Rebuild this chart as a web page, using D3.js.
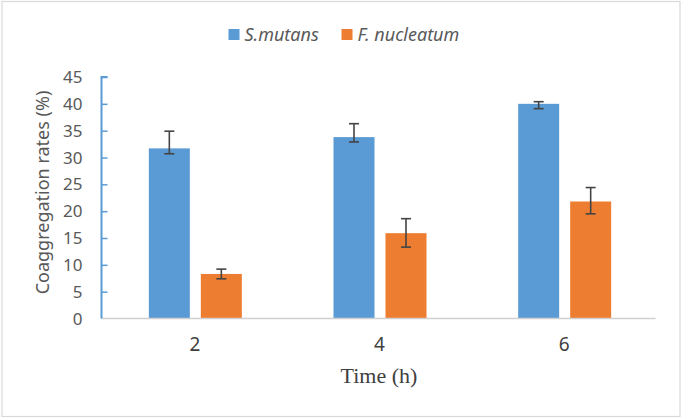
<!DOCTYPE html>
<html>
<head>
<meta charset="utf-8">
<script src="https://cdn.jsdelivr.net/npm/d3@7"></script>
<style>
  html, body { margin: 0; padding: 0; background: #fff; }
  svg { display: block; }
</style>
</head>
<body>
<svg id="chart" width="683" height="420"></svg>
<script>
// ---- data ----
const categories = ["2", "4", "6"];
const seriesNames = ["S.mutans", "F. nucleatum"];
const sMutans      = [31.7, 33.8, 40.0];
const sMutansErrUp = [3.2, 2.5, 0.4];
const sMutansErrDn = [1.0, 0.9, 0.9];
const fNucleatum      = [8.3, 15.9, 21.8];
const fNucleatumErrUp = [0.9, 2.7, 2.6];
const fNucleatumErrDn = [0.9, 2.6, 2.3];
const yTicks = [0, 5, 10, 15, 20, 25, 30, 35, 40, 45];
const colors = ["#5B9BD5", "#ED7D31"];

const series = [
  { name: seriesNames[0], values: sMutans, up: sMutansErrUp, dn: sMutansErrDn },
  { name: seriesNames[1], values: fNucleatum, up: fNucleatumErrUp, dn: fNucleatumErrDn }
];

(function () {
const svg = d3.select("#chart");

// outer border
svg.append("rect")
  .attr("x", 2).attr("y", 1.5).attr("width", 678).attr("height", 415)
  .attr("fill", "#fff").attr("stroke", "#d9d9d9").attr("stroke-width", 1.2);

const pLeft = 101.5, pRight = 655.5, pTop = 77, pBottom = 318.5;

const x0 = d3.scaleBand().domain(categories).range([pLeft, pRight]).padding(0);
const groupW = 93;
const x1 = d3.scaleBand().domain(seriesNames).range([0, groupW]).paddingInner(11 / 52).paddingOuter(0);
const y = d3.scaleLinear().domain([0, 45]).range([pBottom, pTop]);

const gx = c => x0(c) + x0.bandwidth() / 2 + 1.5 - groupW / 2;

// bars
series.forEach((s, si) => {
  svg.append("g").selectAll("rect")
    .data(categories)
    .join("rect")
    .attr("x", (c) => gx(c) + x1(s.name))
    .attr("width", x1.bandwidth())
    .attr("y", (c, i) => y(s.values[i]))
    .attr("height", (c, i) => y(0) - y(s.values[i]))
    .attr("fill", colors[si]);
});

// x axis line
svg.append("line")
  .attr("x1", pLeft).attr("x2", pRight)
  .attr("y1", pBottom).attr("y2", pBottom)
  .attr("stroke", "#d0d0d0").attr("stroke-width", 1.5);

// error bars
series.forEach((s, si) => {
  const g = svg.append("g").attr("stroke", "#444").attr("stroke-width", 1.6).attr("fill", "none");
  categories.forEach((c, i) => {
    const cx = gx(c) + x1(s.name) + x1.bandwidth() / 2;
    const yt = y(s.values[i] + s.up[i]);
    const yb = y(s.values[i] - s.dn[i]);
    g.append("line").attr("x1", cx).attr("x2", cx).attr("y1", yt).attr("y2", yb);
    g.append("line").attr("x1", cx - 5).attr("x2", cx + 5).attr("y1", yt).attr("y2", yt);
    g.append("line").attr("x1", cx - 5).attr("x2", cx + 5).attr("y1", yb).attr("y2", yb);
  });
});

// y axis (blue, ticks inward)
const yAxis = d3.axisRight(y).tickValues(yTicks).tickSize(6).tickSizeOuter(6).tickFormat("");
const ga = svg.append("g").attr("transform", `translate(${pLeft},0)`).call(yAxis);
ga.select(".domain").attr("stroke", "#5B9BD5").attr("stroke-width", 2).attr("d", `M6,${pTop}H0V${pBottom}`);
ga.selectAll(".tick line").attr("stroke", "#5B9BD5").attr("stroke-width", 1.5);
ga.selectAll(".tick").filter(d => d === 0).remove();

// y tick labels
svg.append("g").selectAll("text")
  .data(yTicks)
  .join("text")
  .attr("x", 82.5)
  .attr("y", d => y(d))
  .attr("dy", "0.36em")
  .attr("text-anchor", "end")
  .attr("font-family", "'Noto Sans', sans-serif")
  .attr("font-size", 17)
  .attr("fill", "#595959")
  .text(d => d);

// x tick labels
svg.append("g").selectAll("text")
  .data(categories)
  .join("text")
  .attr("x", c => x0(c) + x0.bandwidth() / 2 + 1)
  .attr("y", 350.5)
  .attr("text-anchor", "middle")
  .attr("font-family", "'Noto Sans', sans-serif")
  .attr("font-size", 19)
  .attr("fill", "#404040")
  .text(c => c);

// x title
svg.append("text")
  .attr("x", 379).attr("y", 383)
  .attr("text-anchor", "middle")
  .attr("font-family", "'Liberation Serif', 'Times New Roman', serif")
  .attr("font-size", 22)
  .attr("fill", "#404040")
  .text("Time (h)");

// y title
svg.append("text")
  .attr("transform", "translate(49,192.5) rotate(-90)")
  .attr("text-anchor", "middle")
  .attr("font-family", "'Noto Sans', sans-serif")
  .attr("font-size", 18)
  .attr("fill", "#595959")
  .text("Coaggregation rates (%)");

// legend
const legendX = [228.5, 341.5];
const lg = svg.append("g");
series.forEach((s, si) => {
  lg.append("rect")
    .attr("x", legendX[si]).attr("y", 29)
    .attr("width", 11).attr("height", 11)
    .attr("fill", colors[si]);
  lg.append("text")
    .attr("x", legendX[si] + 16).attr("y", 40.5)
    .attr("font-family", "'Noto Sans', sans-serif")
    .attr("font-style", "italic")
    .attr("font-size", 18)
    .attr("fill", "#595959")
    .text(s.name);
});
})();
</script>
</body>
</html>
